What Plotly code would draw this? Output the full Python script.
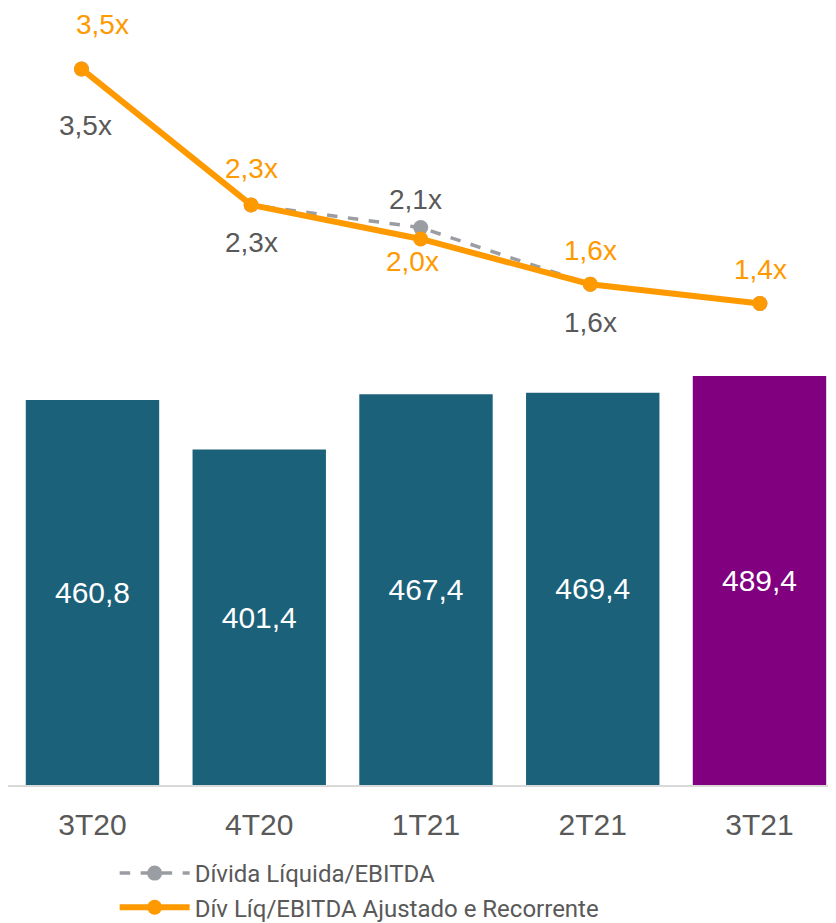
import plotly.graph_objects as go

# dados
trimestres = ["3T20", "4T20", "1T21", "2T21", "3T21"]
receita = [460.8, 401.4, 467.4, 469.4, 489.4]
divida_ebitda = [3.5, 2.3, 2.1, 1.6, 1.43]
divida_ajustada = [3.5, 2.3, 2.0, 1.6, 1.43]
rotulos_divida = ["3,5x", "2,3x", "2,1x", "1,6x", ""]
rotulos_ajustada = ["3,5x", "2,3x", "2,0x", "1,6x", "1,4x"]

cor_barras = ["#1C617A", "#1C617A", "#1C617A", "#1C617A", "#800080"]
cinza = "#9A9DA2"
laranja = "#FF9900"
texto = "#595959"

fig = go.Figure()

fig.add_trace(go.Bar(
    x=trimestres, y=receita,
    marker=dict(color=cor_barras, line=dict(width=0)),
    text=[f"{v:.1f}".replace(".", ",") for v in receita],
    textposition="inside", insidetextanchor="middle",
    textfont=dict(color="white", size=30),
    showlegend=False, hoverinfo="skip",
))

fig.add_trace(go.Scatter(
    x=trimestres, y=divida_ebitda, xaxis="x2", yaxis="y2",
    mode="lines+markers", name="Dívida Líquida/EBITDA",
    legendgroup="a",
    line=dict(color=cinza, width=3.5, dash="dash"),
    marker=dict(color=cinza, size=15),
))
fig.add_trace(go.Scatter(
    x=trimestres, y=divida_ajustada, xaxis="x2", yaxis="y2",
    mode="lines+markers", name="Dív Líq/EBITDA Ajustado e Recorrente",
    legendgroup="b",
    line=dict(color=laranja, width=6),
    marker=dict(color=laranja, size=15),
))

# deslocamento dos rotulos (px)
desl_divida = [(4, -57), (0, -38), (-5, 28), (0, -38), (0, 0)]
desl_ajustada = [(21, 44), (0, 36), (-8, -23), (0, 34), (1, 34)]

for i, t in enumerate(trimestres):
    if rotulos_divida[i]:
        fig.add_annotation(x=t, y=divida_ebitda[i], xref="x2", yref="y2",
                           text=rotulos_divida[i], showarrow=False,
                           xshift=desl_divida[i][0], yshift=desl_divida[i][1],
                           font=dict(size=28, color=texto))
    fig.add_annotation(x=t, y=divida_ajustada[i], xref="x2", yref="y2",
                       text=rotulos_ajustada[i], showarrow=False,
                       xshift=desl_ajustada[i][0], yshift=desl_ajustada[i][1],
                       font=dict(size=28, color=laranja))

# a pagina tem margem de 8px, por isso a figura e um pouco menor
fig.update_layout(
    width=828, height=915,
    margin=dict(l=0, r=0, t=0, b=138),
    paper_bgcolor="white", plot_bgcolor="white",
    font=dict(family="Liberation Sans, Arial, sans-serif", color=texto),
    bargap=0.2,
    xaxis=dict(type="category", range=[-0.5067, 4.4588],
               showline=True, linecolor="#D9D9D9", linewidth=2,
               showgrid=False, ticks="", ticklabelstandoff=12,
               tickfont=dict(size=30, color=texto)),
    yaxis=dict(range=[0, 929.7], visible=False),
    xaxis2=dict(type="category", overlaying="x", range=[-0.4334, 4.4487],
                visible=False),
    yaxis2=dict(overlaying="y", range=[-2.819, 4.038], visible=False),
    legend=dict(x=0.1288, xanchor="left", y=0.0787, yanchor="top",
                yref="container",
                font=dict(family="Roboto, sans-serif", size=24, color=texto),
                tracegroupgap=0, itemwidth=70, bgcolor="rgba(0,0,0,0)"),
)

fig.write_html("out.html")
